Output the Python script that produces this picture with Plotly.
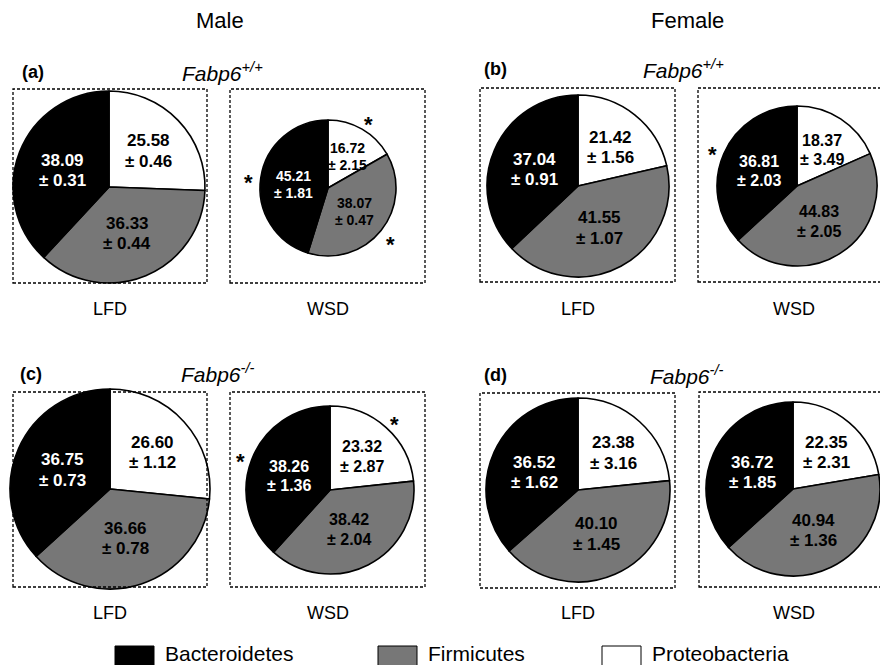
import math
import plotly.graph_objects as go

W, H = 880, 665
FONT = "Liberation Sans, Arial, sans-serif"

# Phyla, in the order the slices are laid out clockwise from 12 o'clock
taxa = ["Proteobacteria", "Firmicutes", "Bacteroidetes"]
slice_colors = ["#ffffff", "#777777", "#000000"]
label_colors = ["#000000", "#000000", "#ffffff"]
label_radius = [0.57, 0.50, 0.52]

# Legend order
legend_taxa = ["Bacteroidetes", "Firmicutes", "Proteobacteria"]

sexes = ["Male", "Female"]
panel_tags = ["(a)", "(b)", "(c)", "(d)"]
genotypes = ["+/+", "+/+", "-/-", "-/-"]
diets = ["LFD", "WSD"]

# Relative abundance (%) as mean and SEM: Proteobacteria, Firmicutes, Bacteroidetes
a_lfd_mean = [25.58, 36.33, 38.09]
a_lfd_sem = [0.46, 0.44, 0.31]
a_wsd_mean = [16.72, 38.07, 45.21]
a_wsd_sem = [2.15, 0.47, 1.81]
b_lfd_mean = [21.42, 41.55, 37.04]
b_lfd_sem = [1.56, 1.07, 0.91]
b_wsd_mean = [18.37, 44.83, 36.81]
b_wsd_sem = [3.49, 2.05, 2.03]
c_lfd_mean = [26.60, 36.66, 36.75]
c_lfd_sem = [1.12, 0.78, 0.73]
c_wsd_mean = [23.32, 38.42, 38.26]
c_wsd_sem = [2.87, 2.04, 1.36]
d_lfd_mean = [23.38, 40.10, 36.52]
d_lfd_sem = [3.16, 1.45, 1.62]
d_wsd_mean = [22.35, 40.94, 36.72]
d_wsd_sem = [2.31, 1.36, 1.85]

# Significant WSD vs LFD differences (same phylum order)
no_sig = [False, False, False]
a_wsd_sig = [True, True, True]
b_wsd_sig = [False, False, True]
c_wsd_sig = [True, False, True]
d_wsd_sig = [False, False, False]

# Pie layout in pixels: centre x, centre y, radius, label font size
pies = [
    dict(mean=a_lfd_mean, sem=a_lfd_sem, sig=no_sig, cx=109, cy=187, r=96, fs=17),
    dict(mean=a_wsd_mean, sem=a_wsd_sem, sig=a_wsd_sig, cx=328, cy=188, r=68, fs=14),
    dict(mean=b_lfd_mean, sem=b_lfd_sem, sig=no_sig, cx=578, cy=186, r=91, fs=17),
    dict(mean=b_wsd_mean, sem=b_wsd_sem, sig=b_wsd_sig, cx=797, cy=186, r=80, fs=16),
    dict(mean=c_lfd_mean, sem=c_lfd_sem, sig=no_sig, cx=110, cy=489, r=100, fs=17),
    dict(mean=c_wsd_mean, sem=c_wsd_sem, sig=c_wsd_sig, cx=330, cy=490, r=84, fs=16),
    dict(mean=d_lfd_mean, sem=d_lfd_sem, sig=no_sig, cx=578, cy=490, r=92, fs=17),
    dict(mean=d_wsd_mean, sem=d_wsd_sem, sig=d_wsd_sig, cx=794, cy=489, r=88, fs=17),
]

# Dashed frames around each pie (pixels: x0, y0, x1, y1)
frames = [
    (13, 89, 207, 283), (230, 89, 425, 283), (480, 88, 675, 282), (698, 88, 895, 282),
    (13, 392, 207, 587), (230, 392, 425, 587), (480, 393, 675, 588), (699, 392, 895, 587),
]


def px(x):
    return x / W


def py(y):
    return 1 - y / H


fig = go.Figure()
annotations = []
shapes = []

for p in pies:
    x0 = max(0.0, px(p["cx"] - p["r"]))
    x1 = min(1.0, px(p["cx"] + p["r"]))
    y0 = max(0.0, py(p["cy"] + p["r"]))
    y1 = min(1.0, py(p["cy"] - p["r"]))
    fig.add_trace(go.Pie(
        labels=taxa, values=p["mean"], sort=False, direction="clockwise",
        rotation=0, textinfo="none", hoverinfo="label+value",
        marker=dict(colors=slice_colors, line=dict(color="#000000", width=1.6)),
        domain=dict(x=[x0, x1], y=[y0, y1]), showlegend=False,
    ))
    total = sum(p["mean"])
    start = 0.0
    for i, (m, s) in enumerate(zip(p["mean"], p["sem"])):
        span = m / total * 360.0
        mid = math.radians(start + span / 2)
        start += span
        d = label_radius[i] * p["r"]
        lx = p["cx"] + d * math.sin(mid)
        ly = p["cy"] - d * math.cos(mid) + 2
        gap = p["fs"] * 0.6
        for txt, yy in ((f"{m:.2f}", ly - gap), (f"± {s:.2f}", ly + gap)):
            annotations.append(dict(
                x=px(lx), y=py(yy), xref="paper", yref="paper", text=f"<b>{txt}</b>",
                showarrow=False, xanchor="center", yanchor="middle",
                font=dict(family=FONT, size=p["fs"], color=label_colors[i]),
            ))
        if p["sig"][i]:
            ds = p["r"] + 12
            sx = p["cx"] + ds * math.sin(mid)
            sy = p["cy"] - ds * math.cos(mid)
            annotations.append(dict(
                x=px(sx), y=py(sy + 6), xref="paper", yref="paper", text="<b>*</b>",
                showarrow=False, xanchor="center", yanchor="middle",
                font=dict(family=FONT, size=22, color="#000000"),
            ))

for (x0, y0, x1, y1) in frames:
    shapes.append(dict(
        type="rect", xref="paper", yref="paper",
        x0=px(x0), x1=px(x1), y0=py(y1), y1=py(y0),
        line=dict(color="#000000", width=1.3, dash="3px,2px"),
        fillcolor="rgba(0,0,0,0)", layer="above",
    ))

# Column headers
for name, cx in zip(sexes, (220, 687)):
    annotations.append(dict(
        x=px(cx), y=py(21), xref="paper", yref="paper", text=name, showarrow=False,
        xanchor="center", yanchor="middle", font=dict(family=FONT, size=22, color="#000000"),
    ))

# Panel tags and genotype titles
tag_pos = [(20, 72), (482, 69), (18, 374), (482, 375)]
geno_pos = [(222, 72), (683, 69), (218, 373), (687, 375)]
for tag, gt, (tx, ty), (gx, gy) in zip(panel_tags, genotypes, tag_pos, geno_pos):
    annotations.append(dict(
        x=px(tx), y=py(ty), xref="paper", yref="paper", text=f"<b>{tag}</b>",
        showarrow=False, xanchor="left", yanchor="middle",
        font=dict(family=FONT, size=18, color="#000000"),
    ))
    annotations.append(dict(
        x=px(gx), y=py(gy), xref="paper", yref="paper",
        text=f"<i>Fabp6<sup>{gt}</sup></i>", showarrow=False,
        xanchor="center", yanchor="middle",
        font=dict(family=FONT, size=21, color="#000000"),
    ))

# Diet labels under each pie
for row_y in (309, 613):
    for cx, diet in zip((110, 328, 578, 794), diets * 2):
        annotations.append(dict(
            x=px(cx), y=py(row_y), xref="paper", yref="paper", text=diet,
            showarrow=False, xanchor="center", yanchor="middle",
            font=dict(family=FONT, size=18, color="#000000"),
        ))

# Legend: swatch + name
legend_x = [115, 378, 602]
for name, lx in zip(legend_taxa, legend_x):
    col = slice_colors[taxa.index(name)]
    shapes.append(dict(
        type="rect", xref="paper", yref="paper",
        x0=px(lx), x1=px(lx + 39), y0=py(666), y1=py(646),
        line=dict(color="#000000", width=1), fillcolor=col,
    ))
    annotations.append(dict(
        x=px(lx + 48), y=py(653), xref="paper", yref="paper", text=name,
        showarrow=False, xanchor="left", yanchor="middle",
        font=dict(family=FONT, size=21, color="#000000"),
    ))

fig.update_layout(
    width=W, height=H, autosize=False,
    margin=dict(l=0, r=0, t=0, b=0),
    paper_bgcolor="#ffffff", plot_bgcolor="#ffffff",
    annotations=annotations, shapes=shapes,
)

fig.write_html("out.html")
